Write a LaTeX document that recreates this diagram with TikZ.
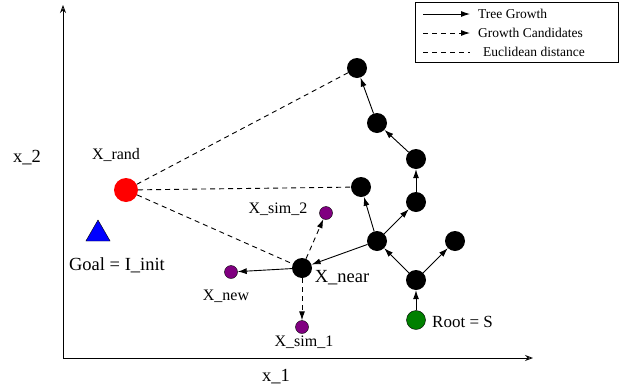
\documentclass[tikz,border=0pt]{standalone}
\usepackage{fontspec}
\setmainfont{Liberation Serif}
\usetikzlibrary{shapes.geometric,arrows.meta}
\definecolor{simpurple}{RGB}{128,0,128}
\definecolor{rootgreen}{RGB}{0,128,0}
\tikzset{
  treenode/.style={circle,fill=black,inner sep=0pt,minimum size=20pt},
  simnode/.style={circle,draw=black,fill=simpurple,inner sep=0pt,minimum size=13pt},
  treegrowth/.style={-{Latex[length=9pt,width=6pt]},line width=0.9pt},
  candarrow/.style={-{Latex[length=9pt,width=6pt]},line width=0.9pt,dash pattern=on 5pt off 4pt},
  eucl/.style={line width=0.9pt,dash pattern=on 5pt off 4pt},
  lbl/.style={inner sep=0pt,font=\fontsize{16}{18}\selectfont},
  biglbl/.style={inner sep=0pt,font=\fontsize{18.5}{20}\selectfont},
  keylbl/.style={inner sep=0pt,anchor=west,font=\fontsize{13.5}{15}\selectfont}
}
\begin{document}
\begin{tikzpicture}[x=1pt,y=-1pt]
\useasboundingbox (0,0) rectangle (622,389);
% axes
\coordinate (origin) at (63,358);
\coordinate (xend) at (533,358);
\coordinate (yend) at (63,5);
\draw[-{Stealth[length=8pt,width=6pt,open]},line width=0.9pt] (origin)--(xend);
\draw[-{Stealth[length=8pt,width=6pt,open]},line width=0.9pt] (origin)--(yend);
\node[biglbl] (xlab) at (276,377) {x\_1};
\node[biglbl] (ylab) at (27,158) {x\_2};
% legend
\node[draw,line width=0.9pt,minimum width=203pt,minimum height=60pt,inner sep=0pt] (key) at (516.5,32) {};
\coordinate (k1a) at (423,14); \coordinate (k1b) at (470,14);
\coordinate (k2a) at (423,33); \coordinate (k2b) at (470,33);
\coordinate (k3a) at (423,52); \coordinate (k3b) at (470,52);
\draw[treegrowth] (k1a)--(k1b);
\draw[candarrow] (k2a)--(k2b);
\draw[eucl] (k3a)--(k3b);
\node[keylbl] (key1) at (478,14) {Tree Growth};
\node[keylbl] (key2) at (478,33) {Growth Candidates};
\node[keylbl] (key3) at (483,52) {Euclidean distance};
% tree
\node[circle,draw=black,fill=rootgreen,inner sep=0pt,minimum size=19pt] (root) at (416,320) {};
\node[treenode] (t1) at (416,280) {};
\node[treenode] (t2) at (455,241) {};
\node[treenode] (t3) at (377,241) {};
\node[treenode] (t4) at (361,187) {};
\node[treenode] (t5) at (416,202) {};
\node[treenode] (t6) at (416,159) {};
\node[treenode] (t7) at (377,123) {};
\node[treenode] (t8) at (357,68) {};
\node[treenode] (near) at (302,268) {};
\node[simnode] (new) at (231,272) {};
\node[simnode] (sim1) at (302,327) {};
\node[simnode] (sim2) at (326,213) {};
\node[circle,fill=red,inner sep=0pt,minimum size=24pt] (rand) at (126,190) {};
\node[regular polygon,regular polygon sides=3,draw=black,fill=blue,inner sep=0pt,minimum size=28pt] (goal) at (98,234) {};
% labels
\node[lbl] (randlab) at (116,155) {X\_rand};
\node[biglbl] (goallab) at (117,265) {Goal = I\_init};
\node[biglbl] (nearlab) at (342,278) {X\_near};
\node[lbl] (newlab) at (226,296) {X\_new};
\node[lbl] (sim1lab) at (304,342) {X\_sim\_1};
\node[lbl] (sim2lab) at (278,209) {X\_sim\_2};
\node[lbl,font=\fontsize{17}{19}\selectfont,anchor=west] (rootlab) at (432,322) {Root = S};
% edges
\draw[treegrowth] (root)--(t1);
\draw[treegrowth] (t1)--(t2);
\draw[treegrowth] (t1)--(t3);
\draw[treegrowth] (t3)--(t4);
\draw[treegrowth] (t3)--(t5);
\draw[treegrowth] (t5)--(t6);
\draw[treegrowth] (t6)--(t7);
\draw[treegrowth] (t7)--(t8);
\draw[treegrowth] (t3)--(near);
\draw[treegrowth] (near)--(new);
\draw[candarrow] (near)--(sim1);
\draw[candarrow] (near)--(sim2);
\draw[eucl] (rand)--(t8);
\draw[eucl] (rand)--(t4);
\draw[eucl] (rand)--(near);
\end{tikzpicture}
\end{document}
